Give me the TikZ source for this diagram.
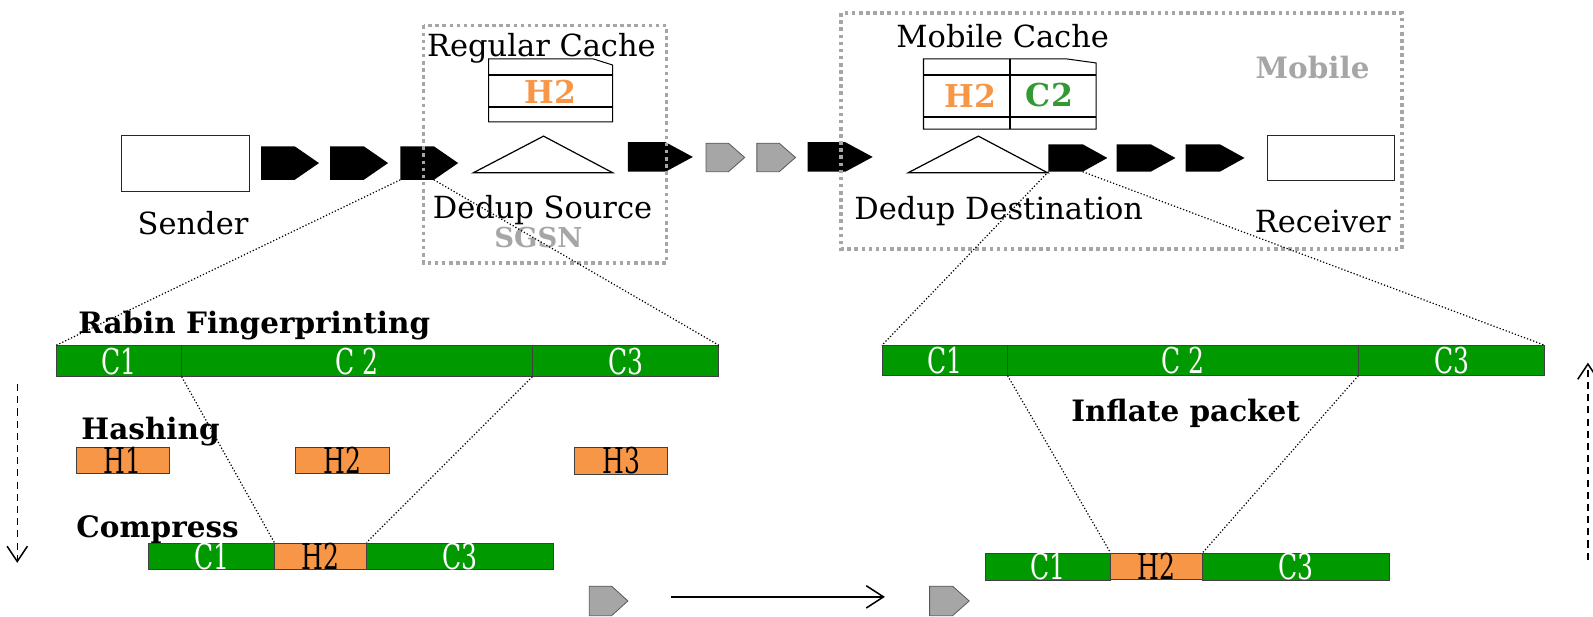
\documentclass[tikz,border=0pt]{standalone}
\usepackage{fontspec}
\setmainfont{DejaVu Serif}
\usetikzlibrary{arrows.meta}

\definecolor{chunkgreen}{HTML}{009900}
\definecolor{hashorange}{HTML}{F79646}
\definecolor{zonegray}{HTML}{A6A6A6}
\definecolor{cachegreen}{HTML}{339933}
\definecolor{edgegray}{HTML}{595959}

% packet glyph: name, left x, top y, width, height, style
\newcommand\pktshape[6]{%
  \pgfmathsetmacro\pkb{#2+0.58*#4}%
  \pgfmathsetmacro\pkr{#2+#4}%
  \pgfmathsetmacro\pkm{#3+#5/2}%
  \pgfmathsetmacro\pkd{#3+#5}%
  \path[#6] (#2,#3) -- (\pkb,#3) -- (\pkr,\pkm) -- (\pkb,\pkd) -- (#2,\pkd) -- cycle;
  \coordinate (#1-bl) at (#2,\pkd);
  \coordinate (#1-bm) at (\pkb,\pkd);
  \coordinate (#1-w) at (#2,\pkm);
  \coordinate (#1-e) at (\pkr,\pkm);}

% narrow, tall lettering used inside the chunk bars
\newcommand\tall[1]{\scalebox{0.88}[1.25]{#1}}

\begin{document}
\begin{tikzpicture}[x=1pt,y=-1pt,
  lbl/.style={font=\fontsize{30}{36}\selectfont, inner sep=0pt, anchor=base},
  steplbl/.style={font=\bfseries\fontsize{29}{35}\selectfont, inner sep=0pt, anchor=base west},
  zonelbl/.style={font=\bfseries\fontsize{29}{35}\selectfont, text=zonegray, inner sep=0pt, anchor=base},
  seg/.style={draw=black!75, line width=0.8pt, inner sep=0pt, anchor=north west,
              font=\fontsize{28}{34}\selectfont},
  chunk/.style={seg, fill=chunkgreen, text=white},
  hashseg/.style={seg, fill=hashorange, text=black},
  blackpkt/.style={fill=black},
  graypkt/.style={fill=zonegray, draw=edgegray, line width=0.8pt},
  zone/.style={draw=zonegray, line width=3.5pt, dash pattern=on 3.5pt off 3.5pt},
  zoomline/.style={line width=1.2pt, dash pattern=on 1.2pt off 2pt},
  flow/.style={line width=1.5pt, dash pattern=on 7pt off 5pt,
               -{Straight Barb[length=15pt,width=20pt]}},
  endbox/.style={draw=black!85, line width=1.2pt, anchor=north west, inner sep=0pt},
  cacheline/.style={line width=2pt},
  cacheedge/.style={line width=1pt},
]
\useasboundingbox (0,0) rectangle (1568,607);

% ---------- top row: endpoints ----------
\node[endbox, minimum width=126pt, minimum height=55pt] (sender) at (119,133) {};
\node[lbl] (sendertxt) at (190,231) {Sender};
\node[endbox, minimum width=125pt, minimum height=44pt] (receiver) at (1247,133) {};
\node[lbl] (receivertxt) at (1302,229) {Receiver};

% ---------- packets on the wire ----------
\pktshape{a1}{257}{144}{57}{33}{blackpkt}
\pktshape{a2}{325}{144}{57}{33}{blackpkt}
\pktshape{a3}{394}{144}{57}{33}{blackpkt}
\pktshape{a4}{618}{140}{64}{29}{blackpkt}
\pktshape{g1}{695}{141}{38}{28}{graypkt}
\pktshape{g2}{745}{141}{38}{28}{graypkt}
\pktshape{a5}{795}{140}{64}{29}{blackpkt}
\pktshape{b1}{1032}{142}{58}{27}{blackpkt}
\pktshape{b2}{1099}{142}{58}{27}{blackpkt}
\pktshape{b3}{1167}{142}{58}{27}{blackpkt}

% ---------- dedup source with regular cache ----------
\node[lbl] (regtitle) at (533,56) {Regular Cache};
\draw[cacheedge] (481,58) -- (584,58) -- (603,64) -- (603,120) -- (481,120) -- cycle;
\draw[cacheline] (481,74) -- (603,74) (481,105) -- (603,105);
\node[font=\bfseries\fontsize{31}{36}\selectfont, text=hashorange, inner sep=0pt] (regh2) at (542,90) {H2};
\draw[line width=1.2pt] (535,134) -- (603,170) -- (466,170) -- cycle;
\node[lbl] (srctxt) at (534,215) {Dedup Source};
\node[zonelbl, font=\bfseries\fontsize{27}{33}\selectfont] (sgsn) at (530,244) {SGSN};

% ---------- dedup destination with mobile cache ----------
\node[lbl] (mobtitle) at (987,47) {Mobile Cache};
\draw[cacheedge] (909,58) -- (1050,58) -- (1079,62) -- (1079,127) -- (909,127) -- cycle;
\draw[cacheline] (909,74) -- (1079,74) (909,115) -- (1079,115) (994,58) -- (994,127);
\node[font=\bfseries\fontsize{31}{36}\selectfont, text=hashorange, inner sep=0pt] (mobh2) at (955,94) {H2};
\node[font=\bfseries\fontsize{31}{36}\selectfont, text=cachegreen, inner sep=0pt] (mobc2) at (1033,94) {C2};
\draw[line width=1.2pt] (963,134) -- (1031,170) -- (894,170) -- cycle;
\node[lbl] (dsttxt) at (983,216) {Dedup Destination};
\node[zonelbl] (mobile) at (1292,77) {Mobile};

% ---------- zones ----------
\draw[zone] (417,25) rectangle (656,259);
\draw[zone] (828,13) rectangle (1380,245);

% ---------- sender side processing ----------
\node[steplbl] (rabin) at (77,328) {Rabin Fingerprinting};
\node[chunk, minimum width=123pt, minimum height=30pt] (lc1) at (55,340) {\tall{C1}};
\node[chunk, minimum width=346pt, minimum height=30pt] (lc2) at (178,340) {\tall{C 2}};
\node[chunk, minimum width=183pt, minimum height=30pt] (lc3) at (524,340) {\tall{C3}};

\node[steplbl] (hashing) at (80,433) {Hashing};
\node[hashseg, minimum width=91pt, minimum height=25pt] (h1) at (75,440) {\tall{H1}};
\node[hashseg, minimum width=93pt, minimum height=25pt] (h2) at (290,440) {\tall{H2}};
\node[hashseg, minimum width=92pt, minimum height=25pt] (h3) at (565,440) {\tall{H3}};

\node[steplbl] (compress) at (75,529) {Compress};
\node[chunk, minimum width=124pt, minimum height=24pt] (bc1) at (146,534) {\tall{C1}};
\node[hashseg, minimum width=90pt, minimum height=24pt] (bh2) at (270,534) {\tall{H2}};
\node[chunk, minimum width=184pt, minimum height=24pt] (bc3) at (360,534) {\tall{C3}};

% ---------- receiver side processing ----------
\node[chunk, minimum width=123pt, minimum height=29pt] (rc1) at (868,340) {\tall{C1}};
\node[chunk, minimum width=346pt, minimum height=29pt] (rc2) at (991,340) {\tall{C 2}};
\node[chunk, minimum width=183pt, minimum height=29pt] (rc3) at (1337,340) {\tall{C3}};
\node[steplbl, anchor=base] (inflate) at (1167,415) {Inflate packet};
\node[chunk, minimum width=123pt, minimum height=24pt] (dc1) at (970,544) {\tall{C1}};
\node[hashseg, minimum width=90pt, minimum height=24pt] (dh2) at (1093,544) {\tall{H2}};
\node[chunk, minimum width=184pt, minimum height=24pt] (dc3) at (1183,544) {\tall{C3}};

% ---------- zoom lines ----------
\draw[zoomline] (a3-bl) -- (lc1.north west);
\draw[zoomline] (a3-bm) -- (lc3.north east);
\draw[zoomline] (lc1.south east) -- (bh2.north west);
\draw[zoomline] (lc3.south west) -- (bh2.north east);
\draw[zoomline] (b1-bl) -- (rc1.north west);
\draw[zoomline] (b1-bm) -- (rc3.north east);
\draw[zoomline] (rc1.south east) -- (dh2.north west);
\draw[zoomline] (rc3.south west) -- (dh2.north east);

% ---------- processing direction ----------
\coordinate (downtop) at (17,378);
\coordinate (downbot) at (17,554);
\draw[flow] (downtop) -- (downbot);
\coordinate (upbot) at (1563,551);
\coordinate (uptop) at (1563,357);
\draw[flow] (upbot) -- (uptop);

% ---------- compressed packet in transit ----------
\pktshape{g3}{580}{577}{38}{29}{graypkt}
\pktshape{g4}{915}{577}{39}{29}{graypkt}
\draw[line width=1.5pt, -{Straight Barb[length=17pt,width=22pt]}]
  ([shift={(42,-4)}]g3-e) -- ([shift={(-44,-4)}]g4-w);
\end{tikzpicture}
\end{document}
